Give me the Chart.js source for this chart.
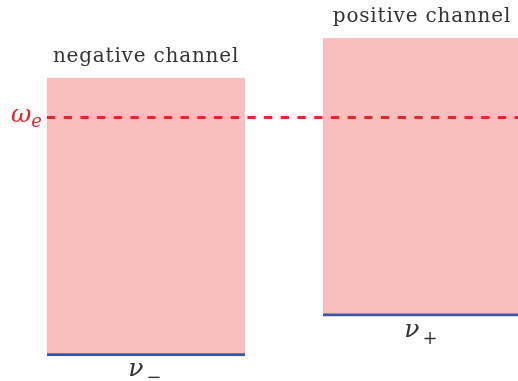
<!DOCTYPE html>
<html>
<head>
<meta charset="utf-8">
<script src="https://cdn.jsdelivr.net/npm/chart.js@4.4.1/dist/chart.umd.min.js"></script>
<style>
  html, body { margin: 0; padding: 0; background: #ffffff; overflow: hidden; }
  #wrap { width: 518px; height: 381px; position: relative; }
</style>
</head>
<body>
<div id="wrap"><canvas id="c"></canvas></div>
<script>
// Two conduction channels, each drawn as a floating band between its lower edge and upper edge
const channels = ['negative channel', 'positive channel'];
const channelPos = [0, 1];
const lowerEdge = [0, 1];          // ν−, ν+
const upperEdge = [7, 8];
const edgeSymbols = [['ν', '−'], ['ν', '+']];
const omegaE = 6;                  // ω_e level
const omegaSymbol = ['ω', 'e'];

const PINK = '#f9bebe';
const BLUE = '#3a58a8';
const RED = '#e8242c';
const INK = '#333333';

// Labels, edge symbols and the dashed ω_e level
const annotate = {
  id: 'annotate',
  afterDatasetsDraw(chart) {
    const ctx = chart.ctx;
    const yScale = chart.scales.y;
    const bars = chart.getDatasetMeta(0).data;
    ctx.save();

    // dashed ω_e line, starting at the left edge of the first band
    const yE = yScale.getPixelForValue(omegaE);
    const x0 = bars[0].x - bars[0].width / 2;
    ctx.strokeStyle = RED;
    ctx.lineWidth = 3;
    ctx.setLineDash([8.3, 8.4]);
    ctx.beginPath();
    ctx.moveTo(x0, yE);
    ctx.lineTo(chart.chartArea.right, yE);
    ctx.stroke();
    ctx.setLineDash([]);

    // ω_e label
    ctx.fillStyle = RED;
    ctx.textAlign = 'left';
    ctx.textBaseline = 'alphabetic';
    const fMain = 'italic 25px "DejaVu Serif"';
    const fSub = 'italic 18px "DejaVu Serif"';
    ctx.font = fSub;
    const wSub = ctx.measureText(omegaSymbol[1]).width;
    ctx.font = fMain;
    const wMain = ctx.measureText(omegaSymbol[0]).width;
    const xStart = x0 - 5 - wSub - wMain;
    ctx.fillText(omegaSymbol[0], xStart, yE + 4.5);
    ctx.font = fSub;
    ctx.fillText(omegaSymbol[1], xStart + wMain, yE + 10);

    bars.forEach((bar, i) => {
      // channel name above the band
      ctx.fillStyle = INK;
      ctx.font = '20px "DejaVu Serif"';
      ctx.letterSpacing = '0.8px';
      ctx.textAlign = 'center';
      ctx.fillText(channels[i], bar.x, bar.y - 16);
      ctx.letterSpacing = '0px';

      // edge symbol below the band
      ctx.textAlign = 'left';
      ctx.font = 'italic 25px "DejaVu Serif"';
      const wn = ctx.measureText(edgeSymbols[i][0]).width;
      ctx.font = '18px "DejaVu Serif"';
      const ws = ctx.measureText(edgeSymbols[i][1]).width;
      const gap = 3;
      const sx = bar.x - 1 - (wn + gap + ws) / 2;
      const base = bar.base + 20.5;
      ctx.font = 'italic 25px "DejaVu Serif"';
      ctx.fillText(edgeSymbols[i][0], sx, base);
      ctx.font = '18px "DejaVu Serif"';
      ctx.fillText(edgeSymbols[i][1], sx + wn + gap, base + 7);
    });

    ctx.restore();
  }
};

new Chart(document.getElementById('c'), {
  type: 'bar',
  data: {
    datasets: [{
      data: channelPos.map((x, i) => ({ x: x, y: [lowerEdge[i], upperEdge[i]] })),
      backgroundColor: PINK,
      borderColor: BLUE,
      borderWidth: { top: 0, left: 0, right: 0, bottom: 3 },
      borderSkipped: false,
      barThickness: 198
    }]
  },
  options: {
    responsive: true,
    maintainAspectRatio: false,
    animation: false,
    layout: { padding: 0 },
    plugins: { legend: { display: false }, tooltip: { enabled: false } },
    scales: {
      x: { type: 'linear', display: false, offset: false, min: -0.529, max: 1.348 },
      y: { display: false, min: -0.629, max: 8.954 }
    }
  },
  plugins: [annotate]
});
</script>
</body>
</html>
